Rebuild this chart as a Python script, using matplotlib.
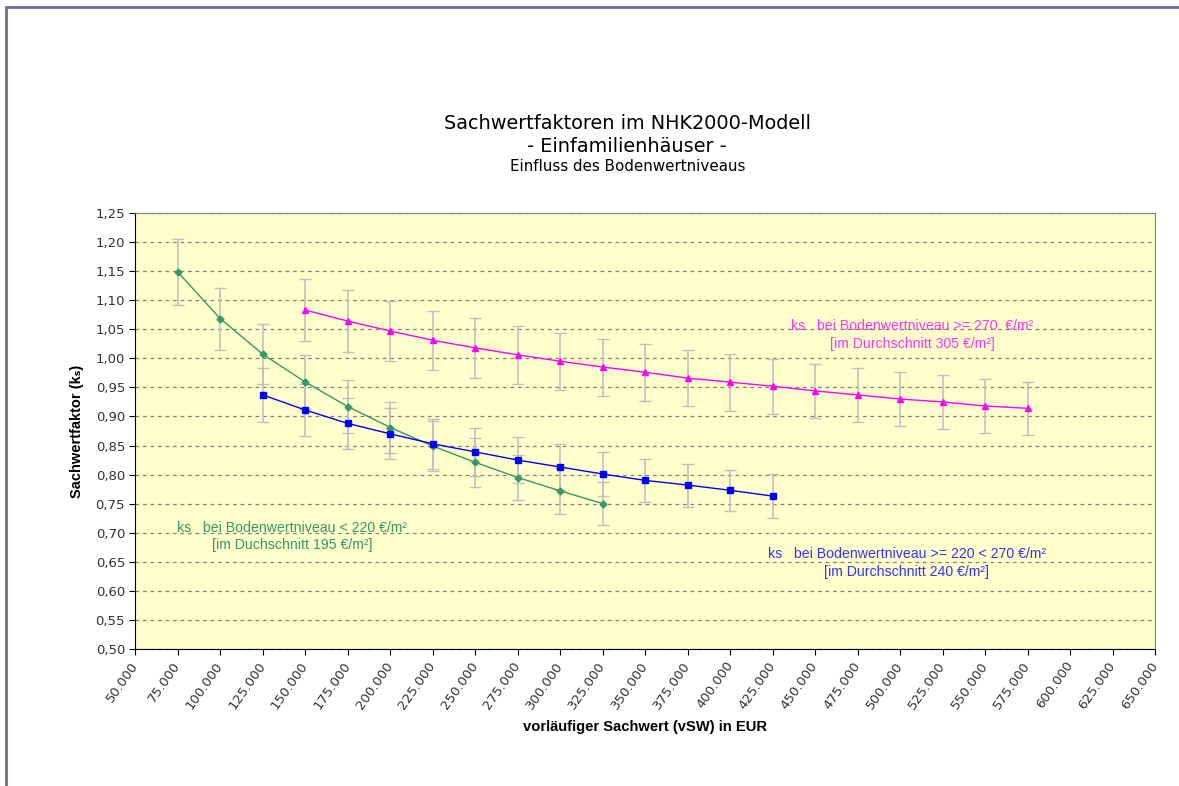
import matplotlib
matplotlib.use("Agg")
import matplotlib.pyplot as plt
from matplotlib.patches import Rectangle
from matplotlib.ticker import FuncFormatter, MultipleLocator

# Bodenwertniveau < 220 €/m²
x_low = [75000, 100000, 125000, 150000, 175000, 200000, 225000, 250000, 275000, 300000, 325000]
k_low = [1.148, 1.068, 1.007, 0.959, 0.917, 0.881, 0.849, 0.821, 0.795, 0.772, 0.750]
e_low = [0.057, 0.053, 0.052, 0.046, 0.045, 0.044, 0.043, 0.042, 0.038, 0.040, 0.037]

# Bodenwertniveau >= 220 < 270 €/m²
x_mid = [125000, 150000, 175000, 200000, 225000, 250000, 275000, 300000, 325000, 350000, 375000, 400000, 425000]
k_mid = [0.937, 0.911, 0.888, 0.870, 0.853, 0.839, 0.825, 0.813, 0.801, 0.790, 0.782, 0.773, 0.763]
e_mid = [0.046, 0.045, 0.044, 0.044, 0.043, 0.042, 0.040, 0.039, 0.038, 0.037, 0.037, 0.035, 0.038]

# Bodenwertniveau >= 270 €/m²
x_high = [150000, 175000, 200000, 225000, 250000, 275000, 300000, 325000, 350000,
          375000, 400000, 425000, 450000, 475000, 500000, 525000, 550000, 575000]
k_high = [1.083, 1.064, 1.047, 1.031, 1.018, 1.006, 0.995, 0.985, 0.976,
          0.966, 0.959, 0.952, 0.944, 0.937, 0.930, 0.925, 0.918, 0.914]
e_high = [0.054, 0.053, 0.051, 0.051, 0.051, 0.050, 0.049, 0.049, 0.049,
          0.048, 0.049, 0.047, 0.047, 0.047, 0.046, 0.046, 0.046, 0.046]

fig = plt.figure(figsize=(11.79, 7.86), dpi=100)
# Rahmen des Diagrammbereichs (rechts/unten abgeschnitten wie im Original)
fig.patches.append(Rectangle((0.0055, -0.1), 1.2, 1.091, transform=fig.transFigure,
                             fill=False, edgecolor="#6b6ba3", lw=2))
ax = fig.add_axes([0.1149, 0.1743, 0.8648, 0.5547])
ax.set_facecolor("#ffffcc")

err_kw = dict(ecolor="#c0c0c0", elinewidth=1.2, capsize=4, capthick=1)
ax.errorbar(x_low, k_low, yerr=e_low, color="#339966", lw=1, marker="D", ms=3.5,
            zorder=3, **err_kw)
ax.errorbar(x_mid, k_mid, yerr=e_mid, color="#0000ff", lw=1, marker="s", ms=4.5,
            zorder=3, **err_kw)
ax.errorbar(x_high, k_high, yerr=e_high, color="#ff00ff", lw=1, marker="^", ms=5,
            zorder=3, **err_kw)

ax.set_xlim(50000, 650000)
ax.set_ylim(0.5, 1.25)
ax.xaxis.set_major_locator(MultipleLocator(25000))
ax.yaxis.set_major_locator(MultipleLocator(0.05))
ax.xaxis.set_major_formatter(FuncFormatter(lambda v, p: f"{v:,.0f}".replace(",", ".")))
ax.yaxis.set_major_formatter(FuncFormatter(lambda v, p: f"{v:.2f}".replace(".", ",")))
ax.grid(axis="y", color="#808080", ls=(0, (3, 3)), lw=0.9)
ax.set_axisbelow(True)
for s in ["top", "right"]:
    ax.spines[s].set_color("#808080")
for s in ["left", "bottom"]:
    ax.spines[s].set_color("black")
ax.tick_params(direction="out", length=4, labelsize=9.5, labelcolor="#333333")
plt.setp(ax.get_xticklabels(), rotation=55, ha="right", va="center", rotation_mode="anchor")
ax.tick_params(axis="x", pad=6)

ax.set_xlabel("vorläufiger Sachwert (vSW) in EUR", fontsize=10.6, fontweight="bold",
              family=["Liberation Sans", "DejaVu Sans"], labelpad=6)
ax.set_ylabel("Sachwertfaktor (kₛ)", fontsize=10.5, fontweight="bold",
              family=["Liberation Sans", "DejaVu Sans"], labelpad=8)

fig.text(0.532, 0.843, "Sachwertfaktoren im NHK2000-Modell", ha="center", va="center", fontsize=13.9)
fig.text(0.532, 0.813, "- Einfamilienhäuser -", ha="center", va="center", fontsize=13.9)
fig.text(0.532, 0.788, "Einfluss des Bodenwertniveaus", ha="center", va="center", fontsize=10.9)

ann = dict(ha="center", va="center", fontsize=10.2, family=["Liberation Sans", "DejaVu Sans"])
ax.text(142000, 0.708, "ks   bei Bodenwertniveau < 220 €/m²", color="#339966", **ann)
ax.text(142000, 0.679, "[im Duchschnitt 195 €/m²]", color="#339966", **ann)
ax.text(504000, 0.664, "ks   bei Bodenwertniveau >= 220 < 270 €/m²", color="#3333ff", **ann)
ax.text(504000, 0.632, "[im Durchschnitt 240 €/m²]", color="#3333ff", **ann)
ax.text(507000, 1.056, "ks   bei Bodenwertniveau >= 270  €/m²", color="#ff33ff", **ann)
ax.text(507000, 1.025, "[im Durchschnitt 305 €/m²]", color="#ff33ff", **ann)

fig.savefig("out.png", dpi=100)
